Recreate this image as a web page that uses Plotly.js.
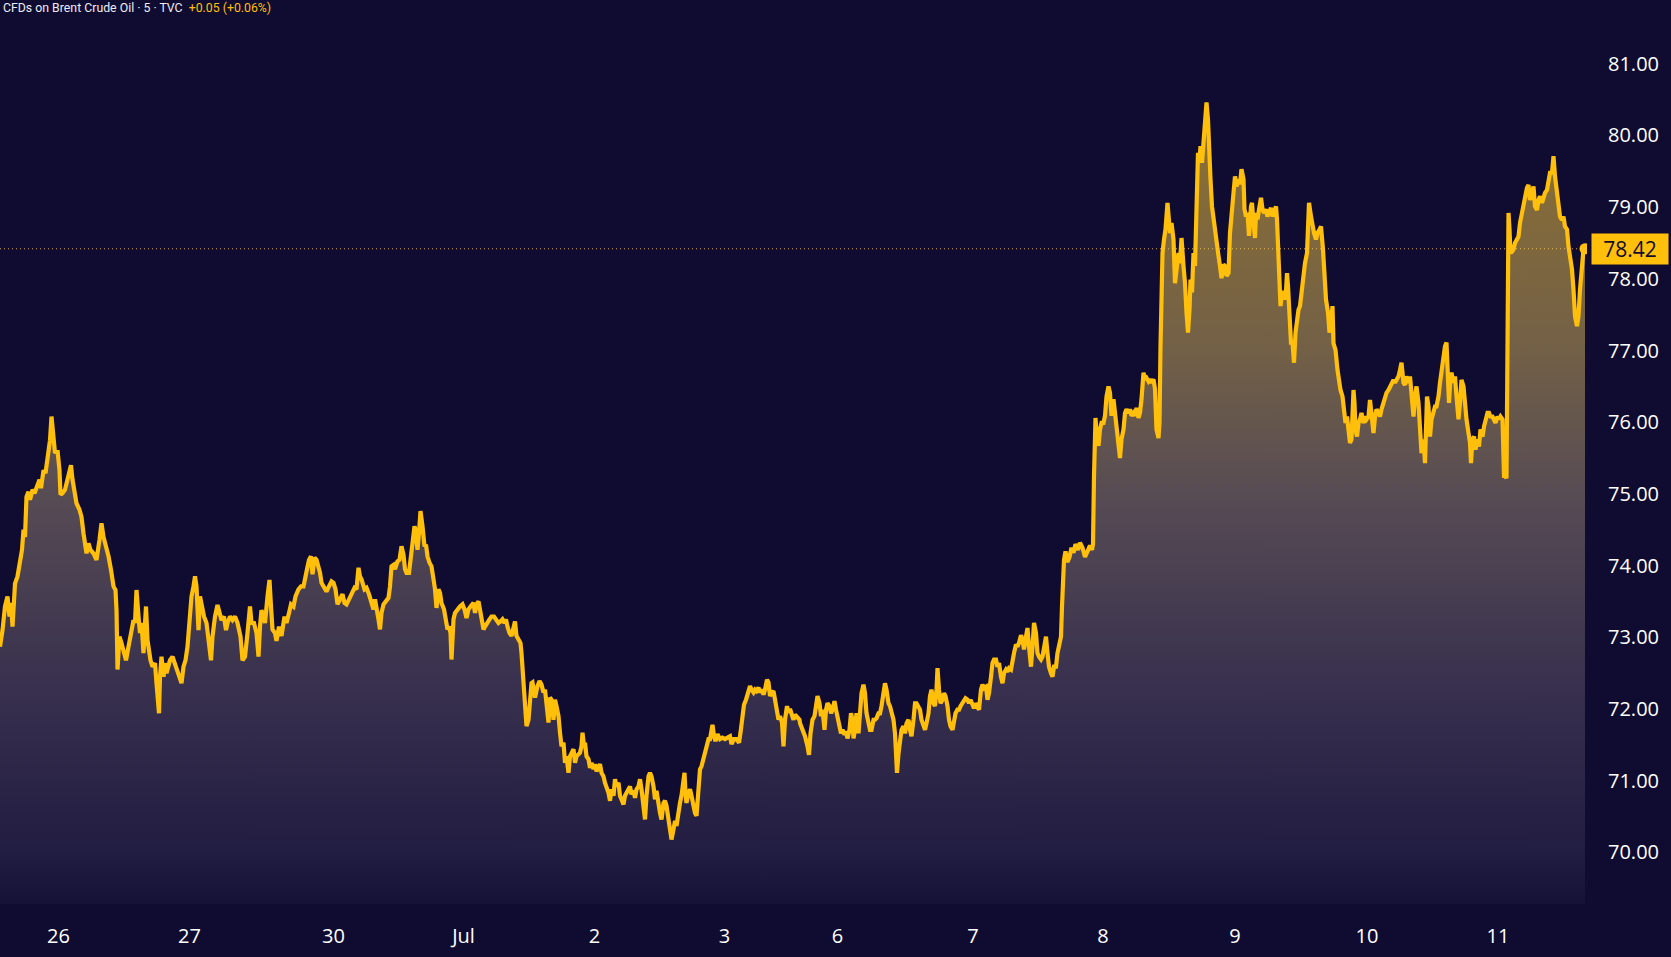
<!DOCTYPE html>
<html>
<head>
<meta charset="utf-8">
<script src="https://cdn.plot.ly/plotly-3.0.1.min.js"></script>
<style>
  html, body { margin: 0; padding: 0; background: #100c31; }
  #chart { width: 1671px; height: 957px; }
</style>
</head>
<body>
<div id="chart"></div>
<script>
// 5-minute bars (bar index, price), session by session
const jun26_27 = [[0,72.87],[5,73.10],[10,73.43],[15,73.57],[19,73.29],[22,73.48],[25,73.15],[30,73.75],[35,73.85],[40,74.08],[44,74.22],[47,74.50],[50,74.40],[53,74.96],[57,75.03],[60,74.92],[65,75.06],[69,75.01],[73,75.10],[79,75.20],[82,75.08],[87,75.33],[91,75.29],[97,75.61],[100,75.75],[103,76.08],[107,75.85],[110,75.57],[115,75.61],[119,75.33],[121,74.99],[125,75.01],[130,75.06],[135,75.20],[139,75.33],[142,75.40],[145,75.20],[149,75.06],[153,74.87],[159,74.78],[163,74.68],[167,74.45],[170,74.27],[173,74.17],[177,74.31],[181,74.22],[187,74.17],[193,74.08],[199,74.36],[203,74.59],[207,74.40],[212,74.27],[217,74.13],[222,73.94],[227,73.71],[231,73.66],[233,73.38],[235,72.55],[239,73.01],[243,72.92],[248,72.78],[252,72.68],[257,72.87],[262,73.06],[267,73.24],[270,73.20],[273,73.66],[277,73.29],[280,73.06],[283,73.20],[287,72.78],[290,73.20],[292,73.43],[295,72.96],[299,72.73],[301,72.68],[305,72.59],[310,72.64],[313,72.36],[318,71.94],[320,72.45],[323,72.73],[327,72.45],[330,72.64],[333,72.50],[337,72.59],[340,72.68],[345,72.73],[349,72.64],[353,72.55],[359,72.45],[363,72.36],[367,72.59],[371,72.68],[375,72.87],[380,73.24],[383,73.57],[387,73.71],[390,73.85],[393,73.71],[397,73.10],[400,73.57],[404,73.38],[408,73.29],[413,73.20],[418,72.96],[422,72.68],[425,73.01],[430,73.29],[435,73.45],[439,73.34],[443,73.24],[448,73.29],[452,73.10],[455,73.20],[460,73.29],[465,73.24],[470,73.29],[475,73.20],[479,73.10],[481,73.01],[485,72.68],[490,72.73],[495,73.06],[500,73.43],[503,73.20],[508,73.20],[513,73.06],[517,72.73],[520,73.15],[523,73.38],[527,73.29],[530,73.20],[535,73.57],[539,73.80]];

const jun30_jul1 = [[542,73.43],[545,73.11],[550,73.06],[553,72.95],[558,73.15],[563,73.02],[569,73.29],[573,73.20],[578,73.34],[582,73.46],[587,73.43],[591,73.57],[597,73.67],[602,73.71],[607,73.71],[610,73.85],[614,73.95],[618,74.08],[622,74.13],[625,73.88],[629,74.11],[633,74.08],[637,73.99],[640,73.90],[643,73.76],[649,73.67],[653,73.64],[658,73.71],[663,73.78],[667,73.76],[671,73.67],[675,73.46],[680,73.53],[685,73.60],[689,73.48],[693,73.46],[698,73.53],[703,73.60],[709,73.69],[713,73.67],[717,73.97],[720,73.85],[723,73.81],[729,73.67],[733,73.69],[738,73.60],[742,73.48],[747,73.39],[750,73.53],[753,73.43],[757,73.25],[760,73.11],[763,73.34],[767,73.46],[771,73.50],[777,73.55],[780,73.71],[783,73.99],[787,74.01],[790,73.95],[795,74.06],[799,74.08],[803,74.27],[807,74.15],[810,73.95],[813,73.90],[818,73.90],[821,74.08],[825,74.39],[829,74.55],[831,74.50],[835,74.22],[838,74.46],[841,74.76],[845,74.55],[849,74.27],[852,74.29],[855,74.13],[859,74.04],[863,73.99],[867,73.81],[870,73.67],[873,73.41],[877,73.67],[880,73.62],[883,73.48],[888,73.39],[891,73.25],[895,73.11],[898,73.15],[901,73.06],[903,72.69],[907,73.25],[910,73.34],[915,73.39],[920,73.43],[925,73.46],[929,73.39],[933,73.27],[937,73.39],[941,73.43],[947,73.48],[950,73.34],[953,73.46],[957,73.50],[960,73.36],[963,73.25],[967,73.11],[970,73.15],[975,73.22],[979,73.25],[983,73.29],[988,73.29],[992,73.25],[997,73.20],[1001,73.22],[1005,73.25],[1009,73.20],[1012,73.25],[1015,73.15],[1019,73.06],[1023,73.02],[1027,73.15],[1030,73.22],[1033,73.02],[1037,72.97],[1041,72.92],[1043,72.78],[1047,72.32],[1050,72.04],[1053,71.76],[1057,71.85],[1060,72.18],[1063,72.36]];

const jul2_3 = [[1065,72.37],[1070,72.16],[1075,72.32],[1079,72.39],[1083,72.34],[1087,72.23],[1090,72.27],[1093,72.04],[1097,71.81],[1100,72.16],[1103,72.13],[1107,71.85],[1110,72.13],[1113,72.04],[1117,71.90],[1120,71.67],[1123,71.48],[1127,71.53],[1130,71.25],[1133,71.34],[1137,71.11],[1140,71.34],[1143,71.39],[1147,71.44],[1150,71.25],[1153,71.34],[1157,71.37],[1160,71.39],[1163,71.48],[1165,71.67],[1168,71.48],[1170,71.53],[1173,71.34],[1177,71.30],[1180,71.18],[1183,71.25],[1187,71.16],[1190,71.23],[1193,71.13],[1197,71.20],[1200,71.23],[1203,71.11],[1207,71.06],[1210,70.97],[1213,70.92],[1217,70.83],[1220,70.72],[1223,70.88],[1227,70.79],[1230,71.02],[1233,70.92],[1237,70.97],[1240,70.79],[1243,70.72],[1247,70.67],[1250,70.79],[1253,70.83],[1257,70.88],[1260,70.92],[1263,70.81],[1267,70.86],[1270,70.76],[1273,70.88],[1277,70.92],[1280,71.02],[1283,70.88],[1287,70.55],[1290,70.46],[1293,70.79],[1297,71.06],[1300,71.11],[1303,71.06],[1307,70.92],[1310,70.74],[1313,70.86],[1317,70.65],[1320,70.55],[1323,70.46],[1327,70.69],[1330,70.72],[1333,70.65],[1337,70.46],[1340,70.27],[1343,70.18],[1347,70.32],[1350,70.44],[1353,70.37],[1357,70.60],[1360,70.69],[1363,70.79],[1367,70.97],[1369,71.11],[1371,70.83],[1373,70.69],[1377,70.83],[1380,70.88],[1383,70.79],[1387,70.60],[1390,70.55],[1393,70.51],[1397,71.02],[1400,71.16],[1403,71.20],[1407,71.30],[1410,71.39],[1413,71.48],[1417,71.58],[1420,71.58],[1423,71.76],[1425,71.78],[1428,71.62],[1431,71.55],[1435,71.65],[1440,71.58],[1445,71.60],[1450,71.58],[1455,71.60],[1460,71.62],[1463,71.51],[1468,71.58],[1473,71.58],[1478,71.53],[1481,71.67],[1485,71.95],[1488,72.06],[1492,72.13],[1497,72.23],[1500,72.32],[1503,72.27],[1507,72.23],[1510,72.27],[1513,72.25],[1517,72.30],[1520,72.23],[1524,72.27],[1527,72.20],[1530,72.27],[1534,72.41],[1537,72.37],[1540,72.18],[1544,72.23],[1547,72.25],[1550,72.13],[1554,71.95],[1557,71.85],[1560,71.90],[1564,71.81],[1567,71.48],[1570,71.85],[1574,72.04],[1577,71.95],[1580,72.00],[1584,71.90],[1587,71.85],[1590,71.92],[1594,71.88],[1599,71.85]];

const jul6_7 = [[1600,71.80],[1605,71.71],[1610,71.62],[1615,71.48],[1618,71.36],[1621,71.66],[1625,71.85],[1629,71.90],[1632,72.04],[1635,72.18],[1639,72.08],[1642,71.90],[1645,71.99],[1649,71.71],[1652,71.99],[1655,72.08],[1659,72.04],[1662,71.94],[1665,71.99],[1669,72.11],[1672,71.99],[1675,71.85],[1679,71.76],[1682,71.66],[1685,71.71],[1689,71.64],[1692,71.69],[1695,71.59],[1699,71.71],[1702,71.94],[1705,71.85],[1707,71.59],[1710,71.71],[1713,71.94],[1717,71.66],[1720,71.94],[1723,72.22],[1727,72.34],[1730,72.22],[1733,71.94],[1737,71.76],[1740,71.71],[1743,71.71],[1747,71.85],[1750,71.85],[1753,71.87],[1757,71.94],[1760,71.94],[1763,72.04],[1767,72.22],[1770,72.36],[1773,72.27],[1777,72.08],[1780,72.04],[1783,71.94],[1787,71.85],[1790,71.66],[1792,71.29],[1794,71.11],[1797,71.38],[1800,71.57],[1803,71.71],[1807,71.76],[1810,71.66],[1813,71.80],[1817,71.85],[1820,71.71],[1823,71.62],[1827,71.85],[1830,72.08],[1833,72.08],[1837,72.04],[1840,71.99],[1843,71.85],[1847,71.76],[1850,71.71],[1853,71.80],[1857,71.94],[1860,72.18],[1863,72.27],[1867,72.08],[1870,72.04],[1873,72.27],[1875,72.57],[1878,72.27],[1881,72.08],[1885,72.13],[1888,72.22],[1891,72.18],[1895,72.04],[1898,71.85],[1901,71.76],[1905,71.71],[1908,71.85],[1911,71.94],[1915,71.99],[1918,71.99],[1921,72.04],[1925,72.08],[1928,72.13],[1931,72.15],[1935,72.13],[1938,72.08],[1941,72.13],[1945,72.04],[1948,72.01],[1951,72.08],[1955,72.04],[1958,71.99],[1962,72.27],[1965,72.34],[1968,72.29],[1972,72.31],[1975,72.13],[1978,72.22],[1982,72.45],[1985,72.64],[1988,72.69],[1992,72.69],[1995,72.59],[1998,72.64],[2002,72.45],[2005,72.36],[2008,72.50],[2012,72.55],[2015,72.52],[2018,72.57],[2022,72.55],[2025,72.69],[2028,72.78],[2032,72.90],[2035,72.87],[2038,72.92],[2042,73.03],[2045,72.97],[2048,72.83],[2052,73.01],[2055,73.13],[2058,72.87],[2062,72.59],[2065,72.87],[2068,73.20],[2072,73.06],[2075,72.78],[2078,72.73],[2082,72.69],[2085,72.73],[2088,72.87],[2092,73.01],[2095,72.78],[2098,72.59],[2102,72.50],[2105,72.45],[2108,72.59],[2112,72.59],[2115,72.78],[2118,72.87],[2122,73.01],[2124,73.43],[2126,73.80],[2128,74.08],[2131,74.20],[2135,74.05],[2139,74.12],[2143,74.25],[2147,74.18],[2151,74.30],[2156,74.22],[2160,74.32],[2165,74.25],[2170,74.12],[2175,74.20],[2180,74.28],[2184,74.22],[2186,74.30]];

const jul8_10 = [[2188,75.25],[2189,75.90],[2191,76.06],[2193,75.85],[2197,75.67],[2200,75.90],[2203,75.99],[2207,75.99],[2210,76.09],[2213,76.36],[2217,76.50],[2220,76.41],[2223,76.09],[2227,76.32],[2230,76.13],[2233,75.90],[2237,75.71],[2240,75.50],[2243,75.76],[2247,75.90],[2250,76.13],[2253,76.18],[2257,76.13],[2260,76.18],[2263,76.09],[2267,76.13],[2270,76.09],[2273,76.20],[2277,76.06],[2280,76.13],[2283,76.32],[2287,76.69],[2290,76.60],[2293,76.62],[2297,76.57],[2300,76.60],[2303,76.55],[2307,76.60],[2310,76.46],[2313,75.90],[2317,75.78],[2319,75.99],[2321,77.06],[2323,77.85],[2325,78.36],[2328,78.55],[2331,78.69],[2335,79.06],[2337,78.92],[2340,78.64],[2343,78.78],[2347,78.55],[2350,77.94],[2353,78.13],[2357,78.36],[2360,78.22],[2363,78.57],[2367,78.18],[2370,77.94],[2373,77.53],[2376,77.25],[2379,77.57],[2381,77.99],[2384,77.81],[2387,78.36],[2390,78.18],[2393,78.92],[2396,79.76],[2399,79.66],[2401,79.85],[2404,79.62],[2407,79.90],[2410,80.04],[2413,80.46],[2416,80.22],[2419,79.57],[2421,79.39],[2424,79.01],[2427,78.83],[2430,78.69],[2433,78.46],[2437,78.32],[2440,78.18],[2443,78.01],[2447,78.20],[2450,78.18],[2453,78.04],[2457,78.08],[2460,78.64],[2463,78.83],[2467,79.20],[2470,79.43],[2473,79.29],[2477,79.39],[2480,79.32],[2483,79.53],[2487,79.39],[2489,78.97],[2492,78.87],[2495,78.92],[2498,78.60],[2502,79.01],[2504,79.06],[2507,78.78],[2510,78.57],[2512,78.92],[2515,78.83],[2518,78.97],[2522,79.13],[2525,78.97],[2528,78.92],[2532,78.97],[2535,78.87],[2538,78.92],[2542,78.99],[2545,78.87],[2548,78.92],[2552,79.01],[2554,78.83],[2556,78.46],[2558,77.90],[2561,77.62],[2564,77.81],[2568,77.81],[2571,77.71],[2574,78.08],[2576,77.90],[2579,77.39],[2582,77.11],[2585,77.11],[2588,76.83],[2591,77.25],[2594,77.43],[2597,77.57],[2600,77.62],[2604,77.90],[2607,78.04],[2610,78.22],[2614,78.36],[2616,78.69],[2618,79.06],[2622,78.87],[2625,78.73],[2628,78.64],[2632,78.55],[2635,78.64],[2639,78.69],[2642,78.73],[2646,78.41],[2649,77.99],[2652,77.71],[2656,77.53],[2659,77.25]];

const jul10_11 = [[2662,77.38],[2665,77.62],[2667,77.10],[2671,77.01],[2675,76.73],[2678,76.55],[2681,76.45],[2685,76.36],[2688,76.22],[2691,75.99],[2694,76.08],[2697,75.90],[2700,75.71],[2703,75.76],[2707,76.45],[2709,76.27],[2711,75.90],[2714,75.80],[2717,75.99],[2720,76.04],[2723,76.13],[2727,75.99],[2730,76.08],[2733,76.04],[2737,76.08],[2740,76.31],[2743,76.04],[2747,75.85],[2750,76.08],[2753,76.18],[2757,76.13],[2760,76.08],[2763,76.18],[2767,76.27],[2770,76.31],[2773,76.41],[2777,76.45],[2780,76.50],[2783,76.55],[2787,76.59],[2790,76.55],[2793,76.59],[2797,76.64],[2800,76.73],[2803,76.83],[2807,76.55],[2810,76.52],[2813,76.64],[2817,76.55],[2820,76.64],[2823,76.36],[2827,76.08],[2830,76.36],[2833,76.50],[2837,76.27],[2840,75.90],[2843,75.57],[2847,75.76],[2850,75.43],[2852,75.90],[2854,76.36],[2857,76.22],[2860,75.80],[2863,76.04],[2867,76.18],[2870,76.22],[2873,76.22],[2877,76.36],[2880,76.55],[2883,76.73],[2887,76.92],[2890,77.06],[2893,77.11],[2895,76.83],[2898,76.27],[2901,76.64],[2903,76.69],[2907,76.55],[2910,76.64],[2913,76.36],[2917,76.04],[2920,76.27],[2923,76.59],[2927,76.50],[2930,76.18],[2933,76.04],[2937,75.85],[2940,75.71],[2942,75.43],[2945,75.76],[2948,75.80],[2951,75.62],[2955,75.76],[2958,75.66],[2961,75.90],[2965,75.80],[2968,75.94],[2971,76.04],[2975,76.13],[2978,76.13],[2981,76.08],[2985,76.08],[2988,76.04],[2991,75.99],[2995,76.08],[2998,76.04],[3001,76.08],[3005,76.04],[3008,75.25],[3010,75.25],[3013,75.22],[3016,78.45],[3017,78.92],[3019,78.69],[3021,78.36],[3024,78.38],[3027,78.41],[3030,78.50],[3034,78.55],[3037,78.59],[3040,78.78],[3044,78.92],[3047,79.01],[3050,79.15],[3054,79.27],[3057,79.31],[3060,79.10],[3064,79.20],[3067,79.29],[3070,79.01],[3074,78.96],[3077,79.10],[3080,79.15],[3084,79.06],[3087,79.15],[3090,79.20],[3094,79.24],[3097,79.34],[3100,79.48],[3104,79.48],[3107,79.71],[3110,79.43],[3114,79.15],[3117,78.96],[3120,78.87],[3124,78.82],[3127,78.87],[3130,78.73],[3134,78.69],[3137,78.45],[3140,78.31],[3144,78.13],[3147,77.85],[3150,77.48],[3154,77.34],[3157,77.48],[3160,77.85],[3164,78.13],[3167,78.41],[3170,78.42]];

// day labels on the time axis (bar index where each label sits)
const dayTickBars = [117, 379, 667, 927, 1189, 1449, 1675, 1946, 2206, 2470, 2734, 2996];
const dayTickText = ['26', '27', '30', 'Jul', '2', '3', '6', '7', '8', '9', '10', '11'];
const priceTicks = [70, 71, 72, 73, 74, 75, 76, 77, 78, 79, 80, 81];
const lastPrice = 78.42;
const titleMain = 'CFDs on Brent Crude Oil · 5 · TVC';
const titleChange = '+0.05 (+0.06%)';

const series = [].concat(jun26_27, jun30_jul1, jul2_3, jul6_7, jul8_10, jul10_11);
const xs = series.map(p => p[0]);
const ys = series.map(p => p[1]);

const AMBER = '#ffbf0a';
const BG = '#100c31';
const FONT = 'Open Sans, Roboto, DejaVu Sans, sans-serif';

const area = {
  type: 'scatter', mode: 'lines', x: xs, y: ys,
  line: { color: AMBER, width: 4.2 },
  fill: 'tozeroy',
  fillgradient: {
    type: 'vertical', start: 69.28, stop: 80.5,
    colorscale: [
      [0, 'rgb(22,18,55)'],
      [0.07, 'rgb(34,29,66)'],
      [0.27, 'rgb(56,48,78)'],
      [0.5, 'rgb(86,75,84)'],
      [0.7, 'rgb(116,97,70)'],
      [1, 'rgb(142,113,50)']
    ]
  },
  hoverinfo: 'skip', showlegend: false
};

const lastDot = {
  type: 'scatter', mode: 'markers',
  x: [xs[xs.length - 1]], y: [ys[ys.length - 1]],
  marker: { color: AMBER, size: 11 },
  hoverinfo: 'skip', showlegend: false
};

const layout = {
  width: 1671, height: 957,
  margin: { l: 0, r: 84, t: 0, b: 53 },
  paper_bgcolor: BG, plot_bgcolor: BG,
  showlegend: false,
  font: { family: FONT, color: '#ffffff' },
  xaxis: {
    range: [0, 3174],
    tickmode: 'array', tickvals: dayTickBars, ticktext: dayTickText,
    showgrid: false, zeroline: false, showline: false,
    ticks: 'outside', ticklen: 14, tickcolor: 'rgba(0,0,0,0)',
    tickfont: { family: FONT, size: 20, color: '#ffffff' },
    fixedrange: true
  },
  yaxis: {
    side: 'right',
    range: [69.28, 81.89],
    tickmode: 'array', tickvals: priceTicks,
    ticktext: priceTicks.map(v => v.toFixed(2)),
    showgrid: false, zeroline: false, showline: false,
    ticks: 'outside', ticklen: 16, tickcolor: 'rgba(0,0,0,0)',
    tickfont: { family: FONT, size: 20, color: '#ffffff' },
    fixedrange: true
  },
  shapes: [{
    type: 'line', xref: 'paper', x0: 0, x1: 1, yref: 'y', y0: lastPrice, y1: lastPrice,
    line: { color: 'rgba(255,205,90,0.8)', width: 1, dash: '1px,3px' }
  }],
  annotations: [
    {
      xref: 'paper', yref: 'y', x: 1, y: lastPrice, xanchor: 'left', yanchor: 'middle',
      xshift: 4, text: lastPrice.toFixed(2), showarrow: false,
      bgcolor: AMBER, borderpad: 3, width: 70, height: 24, align: 'center',
      font: { family: FONT, size: 21, color: '#120d2c' }
    },
    {
      xref: 'paper', yref: 'paper', x: 0, y: 1, xanchor: 'left', yanchor: 'top',
      xshift: 1, yshift: 1, showarrow: false, align: 'left',
      text: titleMain + '  <span style="color:' + AMBER + '">' + titleChange + '</span>',
      font: { family: 'Roboto, Open Sans, sans-serif', size: 12.3, color: '#ececf2' }
    }
  ]
};

Plotly.newPlot('chart', [area, lastDot], layout, { displayModeBar: false, staticPlot: true });
</script>
</body>
</html>
